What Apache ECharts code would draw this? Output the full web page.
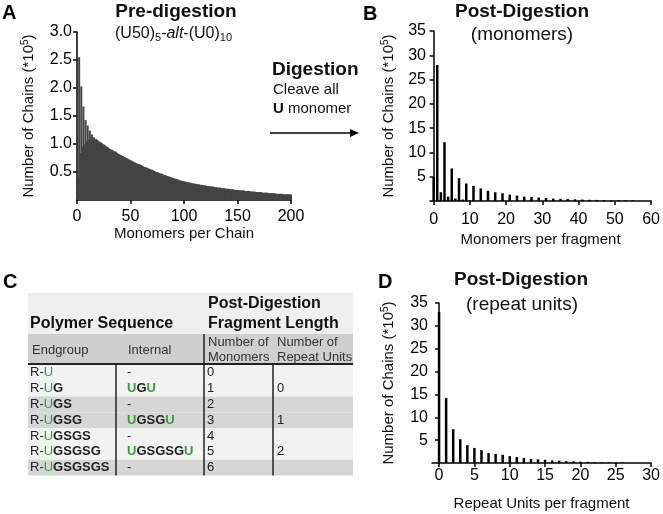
<!DOCTYPE html>
<html>
<head>
<meta charset="utf-8">
<script src="https://cdn.jsdelivr.net/npm/echarts@6/dist/echarts.min.js"></script>
<style>
html, body { margin: 0; padding: 0; background: #fff; }
#chart { width: 663px; height: 514px; }
</style>
</head>
<body>
<div id="chart"></div>
<script>
const FONT = 'Liberation Sans, Arial, sans-serif';

// A: chains (*10^5) for 1..200 monomers per chain
const preDigestion = [
  0.40, 2.55, 0.84, 2.03, 0.95, 1.67, 1.00, 1.43, 1.04, 1.33,
  1.07, 1.24, 1.08, 1.17, 1.08, 1.12, 1.08, 1.09, 1.07, 1.05,
  1.04, 1.03, 1.02, 1.00, 0.99, 0.98, 0.96, 0.95, 0.94, 0.92,
  0.91, 0.90, 0.89, 0.88, 0.87, 0.86, 0.85, 0.83, 0.82, 0.81,
  0.80, 0.79, 0.78, 0.77, 0.76, 0.75, 0.74, 0.73, 0.72, 0.71,
  0.70, 0.69, 0.68, 0.67, 0.66, 0.65, 0.64, 0.64, 0.63, 0.62,
  0.61, 0.60, 0.59, 0.58, 0.58, 0.57, 0.56, 0.55, 0.54, 0.54,
  0.53, 0.52, 0.51, 0.50, 0.50, 0.49, 0.48, 0.47, 0.47, 0.46,
  0.45, 0.44, 0.44, 0.43, 0.42, 0.42, 0.41, 0.40, 0.40, 0.39,
  0.38, 0.38, 0.37, 0.37, 0.36, 0.35, 0.35, 0.34, 0.34, 0.33,
  0.33, 0.32, 0.32, 0.31, 0.31, 0.31, 0.30, 0.30, 0.29, 0.29,
  0.29, 0.28, 0.28, 0.28, 0.27, 0.27, 0.27, 0.26, 0.26, 0.26,
  0.25, 0.25, 0.25, 0.24, 0.24, 0.24, 0.24, 0.23, 0.23, 0.23,
  0.22, 0.22, 0.22, 0.22, 0.21, 0.21, 0.21, 0.21, 0.20, 0.20,
  0.20, 0.20, 0.19, 0.19, 0.19, 0.19, 0.18, 0.18, 0.18, 0.18,
  0.18, 0.17, 0.17, 0.17, 0.17, 0.17, 0.16, 0.16, 0.16, 0.16,
  0.16, 0.15, 0.15, 0.15, 0.15, 0.15, 0.14, 0.14, 0.14, 0.14,
  0.14, 0.14, 0.13, 0.13, 0.13, 0.13, 0.13, 0.13, 0.12, 0.12,
  0.12, 0.12, 0.12, 0.12, 0.12, 0.11, 0.11, 0.11, 0.11, 0.11,
  0.11, 0.11, 0.10, 0.10, 0.10, 0.10, 0.10, 0.10, 0.10, 0.10
];

// B: chains (*10^5) for 0..55 monomers per fragment
const monomerFragments = [
  4.9, 28.0, 1.8, 12.1, 0.9, 6.7, 0.5, 4.7, 0.3, 3.6,
  0.1, 3.1, 0.05, 2.6, 0, 2.1, 0, 1.8, 0, 1.6,
  0, 1.3, 0, 1.1, 0, 0.9, 0, 0.85, 0, 0.7,
  0, 0.6, 0, 0.5, 0, 0.45, 0, 0.4, 0, 0.35,
  0, 0.3, 0, 0.25, 0, 0.22, 0, 0.2, 0, 0.18,
  0, 0.15, 0, 0.12, 0, 0.1
];

// D: chains (*10^5) for 0..26 repeat units per fragment
const repeatFragments = [
  33.0, 14.2, 7.4, 5.2, 3.9, 3.3, 2.8, 2.2, 2.0, 1.8,
  1.5, 1.3, 1.1, 0.9, 0.8, 0.7, 0.55, 0.5, 0.4, 0.35,
  0.3, 0.25, 0.2, 0.18, 0.15, 0.12, 0.1
];

const ticksB = [0, 10, 20, 30, 40, 50, 60];
const ticksD = [0, 5, 10, 15, 20, 25, 30];

// C: table
const endgroups = ['U', 'UG', 'UGS', 'UGSG', 'UGSGS', 'UGSGSG', 'UGSGSGS'];
const internals = ['-', 'UGU', '-', 'UGSGU', '-', 'UGSGSGU', '-'];
const monomerCounts = ['0', '1', '2', '3', '4', '5', '6'];
const repeatCounts = ['', '0', '', '1', '', '2', ''];

const GREEN = '#3c9a3c';
const yName = 'Number of Chains (*10{sup|5})';
const nameRich = {
  sup: { fontSize: 10, fontFamily: FONT, color: '#111', padding: [0, 0, 8, 0] }
};

function axisBase(extra) {
  const base = {
    type: 'value',
    splitLine: { show: false },
    axisLine: { lineStyle: { color: '#000', width: 1.5 } },
    axisTick: { length: 4, lineStyle: { color: '#000', width: 1.5 } },
    axisLabel: { color: '#000', fontSize: 16, fontFamily: FONT },
    nameTextStyle: { color: '#111', fontSize: 15, fontFamily: FONT, rich: nameRich }
  };
  return Object.assign(base, extra);
}

function pairs(values) {
  return values.map((v, i) => [i, v]);
}

// table graphics
const tbl = { x0: 28, x1: 116, x2: 204, x3: 273, x4: 353, top: 293, h1: 334, h2: 364, rowTop: 365, rowH: 15.8 };
const tableRich = {
  g: { fill: GREEN, font: '13px ' + FONT },
  gb: { fill: GREEN, font: 'bold 13px ' + FONT },
  b: { fill: '#222', font: 'bold 13px ' + FONT }
};
const tableEls = [];
tableEls.push({ type: 'rect', shape: { x: tbl.x0, y: tbl.top, width: tbl.x4 - tbl.x0, height: tbl.h1 - tbl.top }, style: { fill: '#efefef' } });
tableEls.push({ type: 'rect', shape: { x: tbl.x0, y: tbl.h1, width: tbl.x4 - tbl.x0, height: tbl.h2 - tbl.h1 }, style: { fill: '#cfcfcf' } });
endgroups.forEach((e, i) => {
  const band = Math.floor(i / 2) % 2;
  const y = tbl.rowTop + i * tbl.rowH;
  tableEls.push({ type: 'rect', shape: { x: tbl.x0, y: y, width: tbl.x4 - tbl.x0, height: tbl.rowH }, style: { fill: band ? '#d6d6d6' : '#f2f2f2' } });
});
tableEls.push({ type: 'line', shape: { x1: tbl.x0, y1: tbl.h2, x2: tbl.x4, y2: tbl.h2 }, style: { stroke: '#222', lineWidth: 2 } });
const tableBottom = tbl.rowTop + endgroups.length * tbl.rowH;
[[tbl.x1, tbl.h2], [tbl.x2, tbl.h1], [tbl.x3, tbl.h2]].forEach(([x, y0]) => {
  tableEls.push({ type: 'line', shape: { x1: x, y1: y0, x2: x, y2: tableBottom }, style: { stroke: '#222', lineWidth: 1.5 } });
});
function txt(text, x, y, font, fill, rich) {
  return { type: 'text', style: { text: text, x: x, y: y, font: font, fill: fill || '#222', textVerticalAlign: 'middle', rich: rich } };
}
tableEls.push(txt('Polymer Sequence', 30, 324, 'bold 16px ' + FONT, '#111'));
tableEls.push(txt('Post-Digestion', 208, 304, 'bold 16px ' + FONT, '#111'));
tableEls.push(txt('Fragment Length', 208, 324, 'bold 16px ' + FONT, '#111'));
tableEls.push(txt('Endgroup', 32, 350, '13px ' + FONT, '#333'));
tableEls.push(txt('Internal', 128, 350, '13px ' + FONT, '#333'));
tableEls.push(txt('Number of', 208, 342, '13px ' + FONT, '#333'));
tableEls.push(txt('Monomers', 208, 357, '13px ' + FONT, '#333'));
tableEls.push(txt('Number of', 277, 342, '13px ' + FONT, '#333'));
tableEls.push(txt('Repeat Units', 277, 357, '13px ' + FONT, '#333'));
endgroups.forEach((e, i) => {
  const y = tbl.rowTop + i * tbl.rowH + tbl.rowH / 2;
  let endTxt = 'R-{g|U}' + (e.length > 1 ? '{b|' + e.slice(1) + '}' : '');
  tableEls.push(txt(endTxt, 30, y, '13px ' + FONT, '#222', tableRich));
  const inn = internals[i];
  let innTxt = inn === '-' ? '-' : '{gb|U}{b|' + inn.slice(1, -1) + '}{gb|U}';
  tableEls.push(txt(innTxt, 127, y, '13px ' + FONT, '#222', tableRich));
  tableEls.push(txt(monomerCounts[i], 207, y, '13px ' + FONT, '#222'));
  if (repeatCounts[i]) tableEls.push(txt(repeatCounts[i], 277, y, '13px ' + FONT, '#222'));
});

const labels = [
  txt('A', 2, 13, 'bold 20px ' + FONT, '#000'),
  txt('B', 363, 14, 'bold 20px ' + FONT, '#000'),
  txt('C', 3, 282, 'bold 20px ' + FONT, '#000'),
  txt('D', 378, 282, 'bold 20px ' + FONT, '#000'),
  { type: 'text', style: { text: 'Pre-digestion', x: 176, y: 12, font: 'bold 19px ' + FONT, fill: '#111', textAlign: 'center', textVerticalAlign: 'middle' } },
  { type: 'text', style: {
      text: '(U50){sub|5}-{it|alt}-(U0){sub|10}', x: 115, y: 34, font: '16px ' + FONT, fill: '#111', textVerticalAlign: 'middle',
      rich: { sub: { font: '11px ' + FONT, fill: '#111', padding: [8, 0, 0, 0] }, it: { font: 'italic 16px ' + FONT, fill: '#111' } }
  } },
  txt('Digestion', 272, 70, 'bold 19px ' + FONT, '#111'),
  txt('Cleave all', 273, 90, '15px ' + FONT, '#111'),
  { type: 'text', style: { text: '{b|U} monomer', x: 273, y: 109, font: '15px ' + FONT, fill: '#111', textVerticalAlign: 'middle',
      rich: { b: { font: 'bold 15px ' + FONT, fill: '#111' } } } },
  { type: 'line', shape: { x1: 270, y1: 133, x2: 352, y2: 133 }, style: { stroke: '#000', lineWidth: 1.5 } },
  { type: 'polygon', shape: { points: [[350, 129], [359, 133], [350, 137]] }, style: { fill: '#000' } },
  { type: 'text', style: { text: 'Post-Digestion', x: 522, y: 12, font: 'bold 19px ' + FONT, fill: '#111', textAlign: 'center', textVerticalAlign: 'middle' } },
  { type: 'text', style: { text: '(monomers)', x: 522, y: 35, font: '19px ' + FONT, fill: '#111', textAlign: 'center', textVerticalAlign: 'middle' } },
  { type: 'text', style: { text: 'Post-Digestion', x: 521, y: 280, font: 'bold 19px ' + FONT, fill: '#111', textAlign: 'center', textVerticalAlign: 'middle' } },
  { type: 'text', style: { text: '(repeat units)', x: 522, y: 305, font: '19px ' + FONT, fill: '#111', textAlign: 'center', textVerticalAlign: 'middle' } }
];

const option = {
  animation: false,
  grid: [
    { left: 77, top: 32, width: 214, height: 168 },
    { left: 430, top: 31, width: 224, height: 170 },
    { left: 432, top: 303, width: 221, height: 160 }
  ],
  xAxis: [
    axisBase({ gridIndex: 0, min: 0, max: 200, interval: 50, name: 'Monomers per Chain', nameLocation: 'middle', nameGap: 22,
      axisLabel: { color: '#000', fontSize: 16, fontFamily: FONT, margin: 9 } }),
    axisBase({ gridIndex: 1, min: -1, max: 60, name: 'Monomers per fragment', nameLocation: 'middle', nameGap: 31,
      axisLabel: { color: '#000', fontSize: 16, fontFamily: FONT, margin: 11, customValues: ticksB },
      axisTick: { length: 4, lineStyle: { color: '#000', width: 1.5 }, customValues: ticksB } }),
    axisBase({ gridIndex: 2, min: -1, max: 30, name: 'Repeat Units per fragment', nameLocation: 'middle', nameGap: 33,
      axisLabel: { color: '#000', fontSize: 16, fontFamily: FONT, margin: 5, customValues: ticksD },
      axisTick: { length: 4, lineStyle: { color: '#000', width: 1.5 }, customValues: ticksD } })
  ],
  yAxis: [
    axisBase({ gridIndex: 0, min: 0, max: 3, interval: 0.5, name: yName, nameLocation: 'middle', nameGap: 39,
      axisLabel: { color: '#000', fontSize: 16, fontFamily: FONT, margin: 5, showMinLabel: false, formatter: v => v.toFixed(1) } }),
    axisBase({ gridIndex: 1, min: 0, max: 35, interval: 5, name: yName, nameLocation: 'middle', nameGap: 32,
      axisLabel: { color: '#000', fontSize: 16, fontFamily: FONT, margin: 4, showMinLabel: false } }),
    axisBase({ gridIndex: 2, min: 0, max: 35, interval: 5, name: yName, nameLocation: 'middle', nameGap: 34,
      axisLabel: { color: '#000', fontSize: 16, fontFamily: FONT, margin: 4, showMinLabel: false } })
  ],
  series: [
    { type: 'bar', xAxisIndex: 0, yAxisIndex: 0, barWidth: 2, silent: true,
      itemStyle: { color: '#444' }, data: preDigestion.map((v, i) => [i + 1, v]) },
    { type: 'bar', xAxisIndex: 1, yAxisIndex: 1, barWidth: 2.5, silent: true,
      itemStyle: { color: '#000' }, data: pairs(monomerFragments) },
    { type: 'bar', xAxisIndex: 2, yAxisIndex: 2, barWidth: 2.5, silent: true,
      itemStyle: { color: '#000' }, data: pairs(repeatFragments) }
  ],
  graphic: tableEls.concat(labels)
};

const chart = echarts.init(document.getElementById('chart'));
chart.setOption(option);
</script>
</body>
</html>
